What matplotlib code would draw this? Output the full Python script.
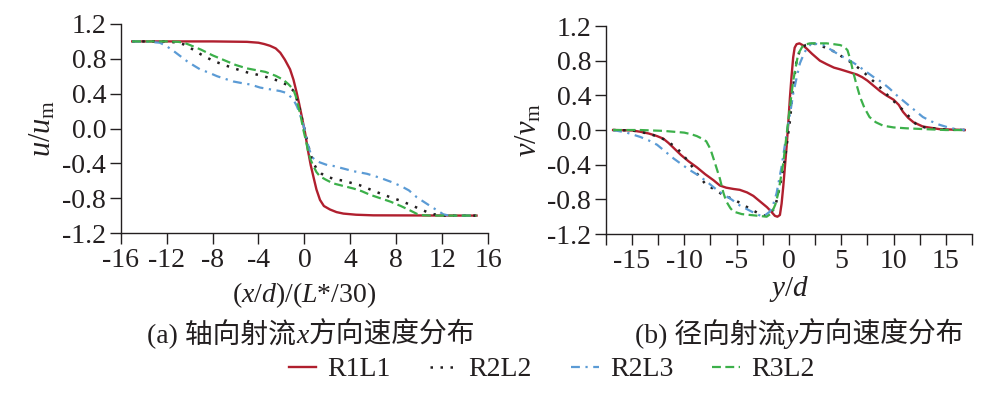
import matplotlib
matplotlib.use("Agg")
import matplotlib.pyplot as plt
from matplotlib.ticker import MultipleLocator, FormatStrFormatter

plt.rcParams['font.family'] = ['Liberation Serif', 'Noto Sans CJK SC']
plt.rcParams['mathtext.fontset'] = 'custom'
plt.rcParams['mathtext.rm'] = 'Liberation Serif'
plt.rcParams['mathtext.it'] = 'Liberation Serif:italic'
plt.rcParams['axes.unicode_minus'] = False

ink = '#231f20'
names = ['R1L1', 'R2L2', 'R2L3', 'R3L2']
colors = ['#b01f2e', '#231f20', '#5b9bd5', '#3cb04a']
styles = ['-', (0, (1, 3)), (0, (4, 2.5, 1, 2.5)), (0, (4, 2))]
widths = [1.7, 1.8, 1.6, 1.6]

# (a) axial jet, u/um vs (x/d)/(L*/30)
a_r1l1_x = [-15, -8, -5, -4, -3.5, -3, -2.5, -2.1, -1.7, -1.25, -0.95, -0.67, -0.45, -0.23, 0.06,
            0.35, 0.55, 0.78, 1.05, 1.36, 1.7, 2.23, 2.8, 3.4, 4.5, 6, 15]
a_r1l1_y = [1.0, 1.0, 0.995, 0.985, 0.97, 0.95, 0.92, 0.87, 0.79, 0.68, 0.56, 0.41, 0.28, 0.14, -0.05,
            -0.28, -0.42, -0.55, -0.70, -0.82, -0.89, -0.93, -0.96, -0.977, -0.99, -0.997, -1.0]

a_r2l2_x = [-15, -13, -12, -11, -10.5, -10, -9, -8, -7, -6, -5, -4, -3, -2.1, -1.5, -1, -0.7, -0.4, -0.1,
            0.2, 0.5, 0.8, 1.1, 1.5, 1.9, 2.6, 3.4, 4.8, 6.3, 7.5, 8.4, 9.3, 10, 10.7, 11.3, 12, 15]
a_r2l2_y = [1.0, 1.0, 1.0, 0.985, 0.965, 0.93, 0.85, 0.78, 0.73, 0.685, 0.645, 0.615, 0.58, 0.54, 0.5,
            0.44, 0.35, 0.22, 0.05, -0.12, -0.28, -0.4, -0.47, -0.52, -0.55, -0.58, -0.6, -0.65, -0.73,
            -0.79, -0.83, -0.88, -0.92, -0.96, -0.985, -1.0, -1.0]

a_r2l3_x = [-15, -13.5, -12.6, -12, -11.4, -10.8, -10.2, -9.6, -9.1, -8.3, -7.6, -6.9, -6.2, -5.4, -4.7,
            -3.86, -3, -2.12, -1.6, -1.25, -0.95, -0.67, -0.45, -0.23, 0.0, 0.2, 0.4, 0.64, 0.9, 1.36,
            2.0, 2.52, 3.4, 4.26, 5.45, 6.57, 7.5, 8.4, 9.1, 9.8, 10.5, 11.2, 11.7, 12.1, 12.6, 15]
a_r2l3_y = [1.0, 0.995, 0.985, 0.945, 0.89, 0.83, 0.77, 0.72, 0.68, 0.64, 0.60, 0.57, 0.54, 0.52, 0.505,
            0.47, 0.45, 0.43, 0.41, 0.37, 0.33, 0.26, 0.19, 0.10, 0.0, -0.13, -0.23, -0.32, -0.36, -0.39,
            -0.42, -0.43, -0.46, -0.49, -0.52, -0.565, -0.61, -0.66, -0.71, -0.79, -0.85, -0.91, -0.95,
            -0.985, -1.0, -1.0]

a_r3l2_x = [-15, -12, -11, -10.5, -10, -9, -8, -7, -6, -5, -4, -3.4, -2.5, -1.84, -1.4, -0.97, -0.75,
            -0.54, -0.3, -0.1, 0.15, 0.35, 0.55, 0.78, 1.05, 1.36, 1.9, 2.5, 3.4, 4.3, 5.0, 5.7, 6.6, 7.5,
            8.4, 9.2, 9.8, 10.3, 11, 15]
a_r3l2_y = [1.0, 1.0, 0.995, 0.985, 0.96, 0.905, 0.84, 0.785, 0.73, 0.69, 0.665, 0.65, 0.605, 0.56, 0.51,
            0.45, 0.37, 0.26, 0.13, -0.01, -0.15, -0.28, -0.36, -0.43, -0.50, -0.55, -0.59, -0.63, -0.66,
            -0.69, -0.72, -0.76, -0.80, -0.84, -0.89, -0.94, -0.98, -0.995, -1.0, -1.0]

# (b) radial jet, v/vm vs y/d
b_r1l1_x = [-16.8, -15, -14.2, -13.4, -12.6, -12, -11.5, -10.9, -10.3, -9.6, -8.8, -8.0, -7.2, -6.6, -6.0,
            -5.3, -4.7, -4.0, -3.4, -2.8, -2.1, -1.7, -1.34, -1.1, -0.86, -0.7, -0.54, -0.38, -0.22,
            -0.05, 0.1, 0.25, 0.41, 0.55, 0.73, 1.0, 1.3, 1.69, 2.2, 2.96, 3.6, 4.3, 4.9, 5.7, 6.5, 7.0,
            7.5, 8.1, 8.7, 9.3, 10.0, 10.5, 10.9, 11.4, 11.9, 12.8, 14.4, 16.8]
b_r1l1_y = [0.0, -0.005, -0.02, -0.04, -0.07, -0.10, -0.15, -0.22, -0.29, -0.36, -0.43, -0.51, -0.58,
            -0.64, -0.665, -0.68, -0.69, -0.72, -0.76, -0.82, -0.89, -0.94, -0.99, -1.0, -0.98, -0.85,
            -0.65, -0.42, -0.19, 0.1, 0.38, 0.62, 0.84, 0.95, 0.99, 1.0, 0.98, 0.94, 0.88, 0.80, 0.76,
            0.72, 0.70, 0.67, 0.64, 0.61, 0.57, 0.51, 0.45, 0.40, 0.35, 0.29, 0.21, 0.14, 0.09, 0.04,
            0.01, 0.0]

b_r2l2_x = [-16.8, -15, -14.2, -13.2, -12.4, -11.6, -10.7, -10.1, -9.5, -8.8, -8.0, -7.07, -6.27, -5.32,
            -4.52, -3.72, -2.76, -2.2, -1.81, -1.34, -0.86, -0.38, 0.1, 0.41, 0.73, 1.0, 1.21, 1.6, 2.2,
            2.6, 3.3, 4.1, 4.9, 5.7, 6.5, 7.3, 8.1, 8.9, 9.6, 10.3, 10.9, 11.6, 12.2, 13.0, 13.8, 15, 16.8]
b_r2l2_y = [0.0, -0.005, -0.02, -0.05, -0.08, -0.13, -0.21, -0.29, -0.38, -0.50, -0.62, -0.69, -0.75,
            -0.80, -0.85, -0.91, -0.97, -0.99, -0.96, -0.90, -0.65, -0.33, 0.11, 0.50, 0.80, 0.90, 0.95,
            0.98, 1.0, 0.99, 0.96, 0.92, 0.86, 0.80, 0.73, 0.65, 0.56, 0.47, 0.38, 0.30, 0.23, 0.14,
            0.06, 0.03, 0.02, 0.005, 0.0]

b_r2l3_x = [-16.8, -15.5, -14.2, -13.4, -12.6, -11.8, -11.0, -10.2, -9.5, -8.7, -7.9, -7.1, -6.3, -5.5,
            -4.7, -3.9, -3.1, -2.45, -1.81, -1.5, -1.18, -0.7, -0.22, 0.1, 0.41, 0.73, 1.05, 1.4, 1.69,
            2.17, 2.8, 3.3, 4.1, 4.9, 5.7, 6.5, 7.3, 8.1, 8.9, 9.6, 10.4, 11.2, 12.0, 12.8, 13.6, 14.4,
            15.5, 16.8]
b_r2l3_y = [0.0, -0.03, -0.08, -0.12, -0.17, -0.25, -0.33, -0.40, -0.46, -0.52, -0.59, -0.67, -0.74,
            -0.80, -0.87, -0.92, -0.97, -1.0, -0.94, -0.86, -0.73, -0.42, -0.04, 0.18, 0.42, 0.60, 0.77,
            0.87, 0.94, 1.0, 0.99, 0.98, 0.92, 0.86, 0.81, 0.75, 0.68, 0.61, 0.55, 0.48, 0.39, 0.31,
            0.23, 0.15, 0.10, 0.06, 0.02, 0.0]

b_r3l2_x = [-16.8, -14.2, -12, -11, -10, -9.3, -8.8, -8.3, -7.9, -7.5, -7.07, -6.6, -6.27, -6.0, -5.6,
            -5.32, -4.5, -3.72, -2.9, -2.13, -1.66, -1.3, -1.02, -0.54, -0.06, 0.41, 0.89, 1.37, 2.0,
            2.8, 3.6, 4.3, 4.9, 5.3, 5.6, 5.9, 6.1, 6.4, 6.8, 7.2, 7.7, 8.3, 9.0, 10.0, 11.2, 13, 15, 16.8]
b_r3l2_y = [0.0, 0.0, -0.01, -0.02, -0.03, -0.05, -0.07, -0.10, -0.13, -0.22, -0.38, -0.56, -0.72,
            -0.82, -0.90, -0.94, -0.97, -0.98, -0.99, -1.0, -0.96, -0.86, -0.73, -0.38, 0.11, 0.57, 0.88,
            0.98, 1.0, 1.0, 1.0, 0.99, 0.98, 0.96, 0.92, 0.80, 0.69, 0.55, 0.38, 0.26, 0.15, 0.09, 0.05,
            0.03, 0.02, 0.01, 0.0, 0.0]

a_series = [(a_r1l1_x, a_r1l1_y), (a_r2l2_x, a_r2l2_y), (a_r2l3_x, a_r2l3_y), (a_r3l2_x, a_r3l2_y)]
b_series = [(b_r1l1_x, b_r1l1_y), (b_r2l2_x, b_r2l2_y), (b_r2l3_x, b_r2l3_y), (b_r3l2_x, b_r3l2_y)]

fs = 20
fig = plt.figure(figsize=(9.98, 3.94), dpi=100)
ax1 = fig.add_axes([0.121, 0.4086, 0.368, 0.5305])
ax2 = fig.add_axes([0.607, 0.406, 0.367, 0.528])

for (x, y), c, ls, lw, n in zip(a_series, colors, styles, widths, names):
    ax1.plot(x, y, color=c, linestyle=ls, linewidth=lw, label=n)
for (x, y), c, ls, lw in zip(b_series, colors, styles, widths):
    ax2.plot(x, y, color=c, linestyle=ls, linewidth=lw)

ax1.set_xlim(-16, 16)
ax1.xaxis.set_major_locator(MultipleLocator(4))
ax2.set_xlim(-17.5, 17.5)
ax2.xaxis.set_major_locator(MultipleLocator(5))
ax2.xaxis.set_minor_locator(MultipleLocator(2.5))

for ax in (ax1, ax2):
    ax.set_ylim(-1.2, 1.2)
    ax.yaxis.set_major_locator(MultipleLocator(0.4))
    ax.yaxis.set_major_formatter(FormatStrFormatter('%.1f'))
    ax.spines['top'].set_visible(False)
    ax.spines['right'].set_visible(False)
    for s in ('left', 'bottom'):
        ax.spines[s].set_color(ink)
        ax.spines[s].set_linewidth(1.0)
    ax.tick_params(which='both', direction='out', length=8, width=1.0, color=ink,
                   labelsize=fs, labelcolor=ink)
    ax.tick_params(axis='y', pad=2.5)
    ax.tick_params(axis='x', pad=3)

ax1.set_xlabel(r'($x/d$)/($L$*/30)', fontsize=fs, color=ink)
ax1.xaxis.set_label_coords(0.5, -0.225)
ax1.set_ylabel(r'$u/u_{\mathrm{m}}$', fontsize=fs + 2, color=ink)
ax1.yaxis.set_label_coords(-0.173, 0.5)

ax2.set_xlabel(r'$y/d$', fontsize=fs + 1, color=ink)
ax2.xaxis.set_label_coords(0.5, -0.19)
ax2.set_ylabel(r'$v/v_{\mathrm{m}}$', fontsize=fs + 2, color=ink)
ax2.yaxis.set_label_coords(-0.171, 0.5)

# captions: latin + chinese + italic letter, laid out piece by piece
fam = ['Liberation Serif', 'Noto Sans CJK SC']
def caption(xc, yb, parts):
    r = fig.canvas.get_renderer()
    texts = []
    for s, italic in parts:
        t = fig.text(0, yb, s, fontsize=fs, color=ink, va='baseline', ha='left',
                     family=fam, style='italic' if italic else 'normal')
        texts.append(t)
    ws = [t.get_window_extent(r).width for t in texts]
    W = fig.bbox.width
    x = xc * W - sum(ws) / 2
    for t, w in zip(texts, ws):
        t.set_x(x / W)
        x += w

caption(311 / 998, 1 - 343 / 394, [('(a) 轴向射流', False), ('x', True), ('方向速度分布', False)])
caption(800 / 998, 1 - 343 / 394, [('(b) 径向射流', False), ('y', True), ('方向速度分布', False)])

h, l = ax1.get_legend_handles_labels()
fig.legend(h, l, loc='center', bbox_to_anchor=(0.5526, 0.062), ncol=4, frameon=False,
           fontsize=fs, handlelength=1.0, handletextpad=0.4, columnspacing=1.4,
           labelcolor=ink)

fig.savefig('out.png', dpi=100)
